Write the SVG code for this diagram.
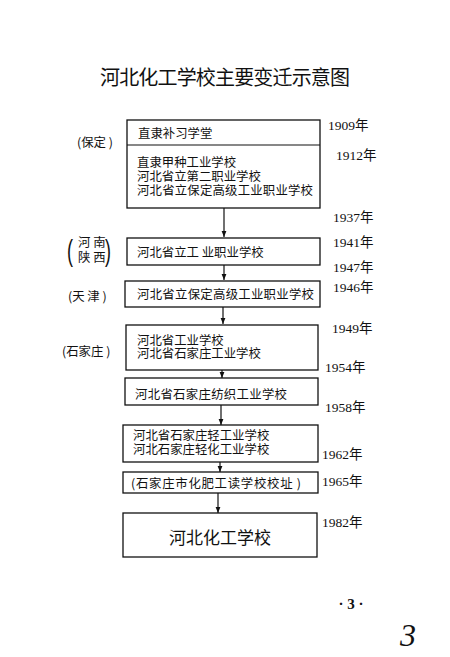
<svg xmlns="http://www.w3.org/2000/svg" width="450" height="657" viewBox="0 0 450 657">
<style>
.bx{fill:none;stroke:#111;stroke-width:1.3}
.t{font-family:"Noto Sans CJK SC","Noto Sans CJK TC",sans-serif;font-size:12.4px;fill:#111}
.yr{font-family:"Liberation Serif","Noto Sans CJK SC",serif;font-size:13.5px;fill:#111}
.ln{stroke:#111;stroke-width:1.2;fill:none}
.pr{font-family:"Liberation Sans",sans-serif;font-size:30px;fill:#111}
</style>
<defs>
<marker id="ah" viewBox="0 0 10 10" refX="10" refY="5" markerWidth="6" markerHeight="6" orient="auto" markerUnits="userSpaceOnUse">
<path d="M0,1 L10,5 L0,9 Z" fill="#111"/>
</marker>
</defs>
<rect width="450" height="657" fill="#fff"/>
<text x="225" y="85" text-anchor="middle" style="font-family:'Noto Sans CJK SC',sans-serif;font-size:20px;fill:#111" textLength="250">河北化工学校主要变迁示意图</text>

<g id="connectors">
<line class="ln" x1="224" y1="208" x2="224" y2="237" marker-end="url(#ah)"/>
<line class="ln" x1="224" y1="265" x2="224" y2="280" marker-end="url(#ah)"/>
<line class="ln" x1="223" y1="307" x2="223" y2="324" marker-end="url(#ah)"/>
<line class="ln" x1="222" y1="370" x2="222" y2="378" marker-end="url(#ah)"/>
<line class="ln" x1="221" y1="405" x2="221" y2="425" marker-end="url(#ah)"/>
<line class="ln" x1="220" y1="462" x2="220" y2="472" marker-end="url(#ah)"/>
<line class="ln" x1="218" y1="493" x2="218" y2="513" marker-end="url(#ah)"/>
</g>

<g id="n1909">
<rect class="bx" x="127" y="120" width="193" height="88"/>
<line class="ln" x1="127" y1="145" x2="320" y2="145"/>
<text class="t" x="138" y="138">直隶补习学堂</text>
<text class="t" x="137" y="167">直隶甲种工业学校</text>
<text class="t" x="137" y="181">河北省立第二职业学校</text>
<text class="t" x="137" y="195" textLength="176">河北省立保定高级工业职业学校</text>
</g>
<g id="n1941">
<rect class="bx" x="127" y="238" width="193" height="27"/>
<text class="t" x="137" y="257">河北省立工 业职业学校</text>
</g>
<g id="n1946">
<rect class="bx" x="125" y="281" width="195" height="26"/>
<text class="t" x="137" y="299" textLength="177">河北省立保定高级工业职业学校</text>
</g>
<g id="n1949">
<rect class="bx" x="126" y="325" width="192" height="45"/>
<text class="t" x="137" y="345">河北省工业学校</text>
<text class="t" x="137" y="358">河北省石家庄工业学校</text>
</g>
<g id="n1954">
<rect class="bx" x="125" y="378" width="193" height="27"/>
<text class="t" x="135" y="399" textLength="152">河北省石家庄纺织工业学校</text>
</g>
<g id="n1958">
<rect class="bx" x="123" y="425" width="195" height="37"/>
<text class="t" x="133" y="440">河北省石家庄轻工业学校</text>
<text class="t" x="133" y="454">河北石家庄轻化工业学校</text>
</g>
<g id="n1965">
<rect class="bx" x="123" y="472" width="195" height="21"/>
<text class="t" x="131" y="488" textLength="170">(石家庄市化肥工读学校校址 )</text>
</g>
<g id="n1982">
<rect class="bx" x="123" y="513" width="194" height="44"/>
<text x="220" y="544" text-anchor="middle" style="font-family:'Noto Sans CJK SC',sans-serif;font-size:17px;fill:#111">河北化工学校</text>
</g>

<g id="places">
<text class="t" x="77" y="147">(保定 )</text>
<text class="pr" x="0" y="0" transform="translate(67 261) scale(0.6 1)">(</text>
<text class="t" x="78" y="247">河 南</text>
<text class="t" x="78" y="262">陕 西</text>
<text class="pr" x="0" y="0" transform="translate(105 261) scale(0.6 1)">)</text>
<text class="t" x="68" y="301">(天 津 )</text>
<text class="t" x="62" y="356">(石家庄 )</text>
</g>

<g id="years">
<text class="yr" x="328" y="130">1909年</text>
<text class="yr" x="336" y="160">1912年</text>
<text class="yr" x="333" y="222">1937年</text>
<text class="yr" x="333" y="247">1941年</text>
<text class="yr" x="333" y="272">1947年</text>
<text class="yr" x="333" y="292">1946年</text>
<text class="yr" x="332" y="333">1949年</text>
<text class="yr" x="325" y="372">1954年</text>
<text class="yr" x="325" y="412">1958年</text>
<text class="yr" x="322" y="459">1962年</text>
<text class="yr" x="322" y="486">1965年</text>
<text class="yr" x="322" y="527">1982年</text>
</g>

<text x="351" y="609" text-anchor="middle" style="font-family:'Liberation Serif',serif;font-size:15px;font-weight:bold;fill:#111">· 3 ·</text>
<text x="400" y="646" style="font-family:'Liberation Serif',serif;font-style:italic;font-size:32px;fill:#111">3</text>
</svg>
